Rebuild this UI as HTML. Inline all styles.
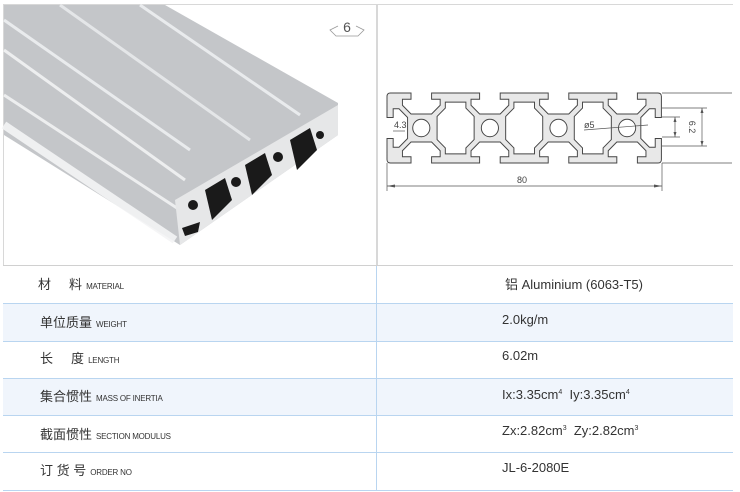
<!DOCTYPE html>
<html><head><meta charset="utf-8"><style>
body{margin:0;background:#fff;width:740px;height:492px;position:relative;overflow:hidden;font-family:"Liberation Sans","Noto Sans CJK SC",sans-serif;color:#333}
.t{position:absolute;font-size:13px;white-space:nowrap}
.e{font-size:8px;letter-spacing:-0.2px;margin-left:4px}
sup{font-size:7px;vertical-align:5px}
</style></head><body>
<svg width="740" height="492" style="position:absolute;left:0;top:0">
<rect x="3" y="303" width="730" height="38" fill="#f0f5fc"/>
<rect x="3" y="378" width="730" height="37" fill="#f0f5fc"/>
<rect x="3.5" y="4.5" width="373" height="261" fill="none" stroke="#d8d8d8"/>
<line x1="376" y1="4.5" x2="733" y2="4.5" stroke="#d8d8d8"/>
<line x1="377.5" y1="4" x2="377.5" y2="265" stroke="#d8d8d8"/>
<g stroke="#b9d5f0" stroke-width="1">
<line x1="3" y1="265.5" x2="733" y2="265.5" stroke="#d0d0d0"/>
<line x1="3" y1="303.5" x2="733" y2="303.5"/>
<line x1="3" y1="341.5" x2="733" y2="341.5"/>
<line x1="3" y1="378.5" x2="733" y2="378.5"/>
<line x1="3" y1="415.5" x2="733" y2="415.5"/>
<line x1="3" y1="452.5" x2="733" y2="452.5"/>
<line x1="3" y1="490.5" x2="733" y2="490.5"/>
<line x1="376.5" y1="266" x2="376.5" y2="490"/>
</g>
<polygon points="4,5 165,5 338,103 338,135 180,245 4,135" fill="#c4c6c9"/>
<g stroke-width="3" opacity="0.9">
<line x1="4" y1="20" x2="190" y2="150" stroke="#eef0f2"/>
<line x1="4" y1="50" x2="185" y2="180" stroke="#f2f3f4"/>
<line x1="4" y1="95" x2="180" y2="210" stroke="#f2f3f4"/>
<line x1="60" y1="5" x2="250" y2="140" stroke="#e8eaec"/>
<line x1="140" y1="5" x2="300" y2="115" stroke="#eef0f2"/>
<line x1="4" y1="125" x2="175" y2="240" stroke="#f4f5f6" stroke-width="8"/>
</g>
<polygon points="175,200 338,105 338,135 180,245" fill="#e6e7e8"/>
<g fill="#1a1a1a">
<polygon points="205,190 225,178 232,200 212,220"/>
<polygon points="245,165 265,153 272,175 252,195"/>
<polygon points="290,140 310,128 317,150 297,170"/>
<circle cx="193" cy="205" r="5"/><circle cx="236" cy="182" r="5"/><circle cx="278" cy="157" r="5"/><circle cx="320" cy="135" r="4"/>
<polygon points="182,228 200,222 198,232 185,236"/>
</g>
<path d="M338,26 L330,30 L336,36 L358,36 L364,30 L356,26" fill="none" stroke="#999" stroke-width="0.8"/>
<text x="347" y="32" font-size="14" text-anchor="middle" fill="#555" font-family="Liberation Sans">6</text>
<g transform="translate(387,93) scale(3.43,3.5)">
<path fill="#e8e8e8" stroke="#444" stroke-width="0.28" fill-rule="evenodd" d="
M1,0 L7,0 L7,1.8 L4.5,1.8 L4.5,3.5 L7,6 L13,6 L15.5,3.5 L15.5,1.8 L13,1.8 L13,0
L27,0 L27,1.8 L24.5,1.8 L24.5,3.5 L27,6 L33,6 L35.5,3.5 L35.5,1.8 L33,1.8 L33,0
L47,0 L47,1.8 L44.5,1.8 L44.5,3.5 L47,6 L53,6 L55.5,3.5 L55.5,1.8 L53,1.8 L53,0
L67,0 L67,1.8 L64.5,1.8 L64.5,3.5 L67,6 L73,6 L75.5,3.5 L75.5,1.8 L73,1.8 L73,0 L79,0 Q80,0 80,1
L80,7 L78.2,7 L78.2,4.5 L76.5,4.5 L74,7 L74,13 L76.5,15.5 L78.2,15.5 L78.2,13 L80,13 L80,19 Q80,20 79,20
L73,20 L73,18.2 L75.5,18.2 L75.5,16.5 L73,14 L67,14 L64.5,16.5 L64.5,18.2 L67,18.2 L67,20
L53,20 L53,18.2 L55.5,18.2 L55.5,16.5 L53,14 L47,14 L44.5,16.5 L44.5,18.2 L47,18.2 L47,20
L33,20 L33,18.2 L35.5,18.2 L35.5,16.5 L33,14 L27,14 L24.5,16.5 L24.5,18.2 L27,18.2 L27,20
L13,20 L13,18.2 L15.5,18.2 L15.5,16.5 L13,14 L7,14 L4.5,16.5 L4.5,18.2 L7,18.2 L7,20 L1,20 Q0,20 0,19
L0,13 L1.8,13 L1.8,15.5 L3.5,15.5 L6,13 L6,7 L3.5,4.5 L1.8,4.5 L1.8,7 L0,7 L0,1 Q0,0 1,0 Z
M17,2.6 L23,2.6 L23,4.3 L25.4,6.7 L25.4,13.3 L23,15.7 L23,17.4 L17,17.4 L17,15.7 L14.6,13.3 L14.6,6.7 L17,4.3 Z
M37,2.6 L43,2.6 L43,4.3 L45.4,6.7 L45.4,13.3 L43,15.7 L43,17.4 L37,17.4 L37,15.7 L34.6,13.3 L34.6,6.7 L37,4.3 Z
M57,2.6 L63,2.6 L63,4.3 L65.4,6.7 L65.4,13.3 L63,15.7 L63,17.4 L57,17.4 L57,15.7 L54.6,13.3 L54.6,6.7 L57,4.3 Z
M12.5,10 A2.5,2.5 0 1 0 7.5,10 A2.5,2.5 0 1 0 12.5,10 Z
M32.5,10 A2.5,2.5 0 1 0 27.5,10 A2.5,2.5 0 1 0 32.5,10 Z
M52.5,10 A2.5,2.5 0 1 0 47.5,10 A2.5,2.5 0 1 0 52.5,10 Z
M72.5,10 A2.5,2.5 0 1 0 67.5,10 A2.5,2.5 0 1 0 72.5,10 Z"/>
</g>
<g stroke="#555" stroke-width="0.7" fill="none">
<line x1="662" y1="93" x2="732" y2="93"/><line x1="662" y1="163" x2="732" y2="163"/>
<line x1="662" y1="108" x2="707" y2="108"/><line x1="662" y1="146" x2="707" y2="146"/>
<line x1="662" y1="117" x2="680" y2="117"/><line x1="662" y1="137" x2="680" y2="137"/>
<line x1="675" y1="117" x2="675" y2="137"/><line x1="702" y1="108" x2="702" y2="146"/>
<line x1="387" y1="163" x2="387" y2="191"/><line x1="662" y1="163" x2="662" y2="191"/>
<line x1="387" y1="186" x2="662" y2="186"/>
<line x1="393" y1="131" x2="405" y2="131"/>
<line x1="584" y1="130" x2="648" y2="125"/>
</g>
<g fill="#555">
<polygon points="387,186 395,184.5 395,187.5"/><polygon points="662,186 654,184.5 654,187.5"/>
<polygon points="675,117 673.5,122 676.5,122"/><polygon points="675,137 673.5,132 676.5,132"/>
<polygon points="702,108 700.5,113 703.5,113"/><polygon points="702,146 700.5,141 703.5,141"/>
</g>
<g font-family="Liberation Sans" font-size="9" fill="#444">
<text x="394" y="128">4.3</text>
<text x="584" y="128">ø5</text>
<text x="517" y="183">80</text>
<text x="0" y="0" transform="translate(689,127) rotate(90)" text-anchor="middle">6.2</text>
</g>
</svg>
<div class="t" style="left:38px;top:274px">材&nbsp;&nbsp;&nbsp;&nbsp;&nbsp;料<span class="e">MATERIAL</span></div>
<div class="t" style="left:40px;top:312px">单位质量<span class="e">WEIGHT</span></div>
<div class="t" style="left:40px;top:348px">长&nbsp;&nbsp;&nbsp;&nbsp;&nbsp;度<span class="e">LENGTH</span></div>
<div class="t" style="left:40px;top:386px">集合惯性<span class="e">MASS OF INERTIA</span></div>
<div class="t" style="left:40px;top:424px">截面惯性<span class="e">SECTION MODULUS</span></div>
<div class="t" style="left:40px;top:460px">订 货 号<span class="e">ORDER NO</span></div>
<div class="t" style="left:505px;top:274px">铝 Aluminium (6063-T5)</div>
<div class="t" style="left:502px;top:312px">2.0kg/m</div>
<div class="t" style="left:502px;top:348px">6.02m</div>
<div class="t" style="left:502px;top:387px">Ix:3.35cm<sup>4</sup>&nbsp; Iy:3.35cm<sup>4</sup></div>
<div class="t" style="left:502px;top:423px">Zx:2.82cm<sup>3</sup>&nbsp; Zy:2.82cm<sup>3</sup></div>
<div class="t" style="left:502px;top:460px">JL-6-2080E</div>
</body></html>
